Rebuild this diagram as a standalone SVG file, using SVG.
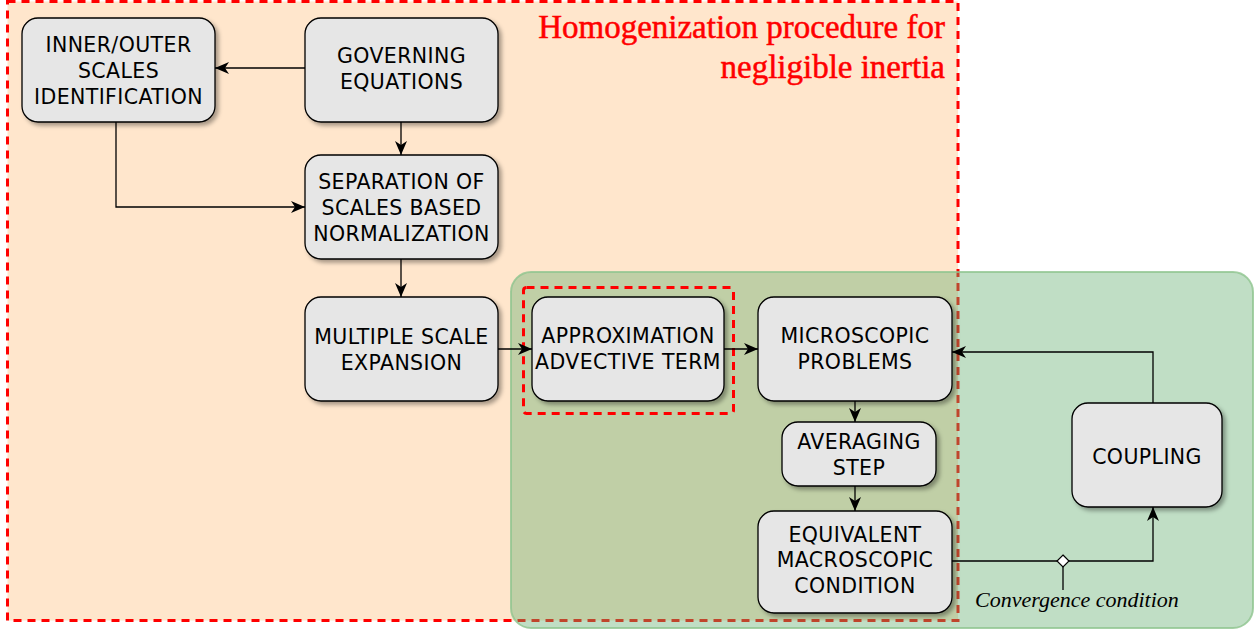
<svg xmlns="http://www.w3.org/2000/svg" width="1258" height="634" viewBox="0 0 1258 634">
<style>
.node rect{fill:#E6E6E6;stroke:#000;stroke-width:1.3}
.nt{font-family:"DejaVu Sans",Verdana,sans-serif;font-size:20.5px;letter-spacing:0.4px;fill:#000;text-anchor:middle}
.con{fill:none;stroke:#000;stroke-width:1.3}
.title{font-family:"Liberation Serif","Times New Roman",serif;font-size:33px;fill:#FF0000;stroke:#FF0000;stroke-width:0.5;text-anchor:end}
.lbl{font-family:"Liberation Serif","Times New Roman",serif;font-size:22px;font-style:italic;fill:#000}
</style>
<defs>
<filter id="sh" x="-10%" y="-10%" width="130%" height="140%">
<feDropShadow dx="3" dy="3" stdDeviation="2" flood-color="#000" flood-opacity="0.35"/>
</filter>
<marker id="arr" viewBox="0 0 14 12" refX="14" refY="6" markerWidth="14" markerHeight="12" markerUnits="userSpaceOnUse" orient="auto">
<path d="M14,6 L0,0 L4,6 L0,12 Z" fill="#000"/>
</marker>
</defs>
<rect width="1258" height="634" fill="#FFFFFF"/>
<g id="region-homogenization">
<rect x="7.5" y="1.5" width="950.5" height="619" fill="#FFE6CC" stroke="#FF0000" stroke-width="3" stroke-dasharray="8 6"/>
</g>
<g id="region-coupling">
<rect x="511" y="272" width="742" height="356" rx="20" ry="20" fill="rgb(97,172,110)" fill-opacity="0.4" stroke="#8FC48F" stroke-opacity="0.8" stroke-width="2"/>
</g>
<g id="title">
<text class="title" x="945" y="38">Homogenization procedure for</text>
<text class="title" x="945" y="78">negligible inertia</text>
</g>
<g id="approx-highlight">
<rect x="523.5" y="287.5" width="210" height="126" rx="3" fill="none" stroke="#FF0000" stroke-width="3" stroke-dasharray="8 6"/>
</g>
<g id="connectors">
<path class="con" d="M305,68 L215,68" marker-end="url(#arr)"/>
<path class="con" d="M401,122 L401,155" marker-end="url(#arr)"/>
<path class="con" d="M116,122 L116,207 L305,207" marker-end="url(#arr)"/>
<path class="con" d="M401,259 L401,297" marker-end="url(#arr)"/>
<path class="con" d="M498,349 L532,349" marker-end="url(#arr)"/>
<path class="con" d="M724,349 L758,349" marker-end="url(#arr)"/>
<path class="con" d="M855,401 L855,422" marker-end="url(#arr)"/>
<path class="con" d="M855,486 L855,511" marker-end="url(#arr)"/>
<path class="con" d="M952,561 L1153,561 L1153,507" stroke="#222" stroke-width="1.5" marker-end="url(#arr)"/>
<path class="con" d="M1153,403 L1153,352 L952,352" stroke="#222" stroke-width="1.5" marker-end="url(#arr)"/>
<path class="con" d="M1063,567 L1063,590" stroke="#333" stroke-width="1.5"/>
<path d="M1063,555 L1069,561 L1063,567 L1057,561 Z" fill="#FFFFFF" stroke="#000" stroke-width="1.2"/>
</g>
<g id="node-inner-outer" class="node">
<rect x="22" y="18" width="193" height="104" rx="16" filter="url(#sh)"/>
<text class="nt" x="118.5" y="52">INNER/OUTER</text>
<text class="nt" x="118.5" y="78">SCALES</text>
<text class="nt" x="118.5" y="103.5">IDENTIFICATION</text>
</g>
<g id="node-governing" class="node">
<rect x="305" y="18" width="193" height="104" rx="16" filter="url(#sh)"/>
<text class="nt" x="401.5" y="63">GOVERNING</text>
<text class="nt" x="401.5" y="88.5">EQUATIONS</text>
</g>
<g id="node-separation" class="node">
<rect x="305" y="155" width="193" height="104" rx="16" filter="url(#sh)"/>
<text class="nt" x="401.5" y="189">SEPARATION OF</text>
<text class="nt" x="401.5" y="215">SCALES BASED</text>
<text class="nt" x="401.5" y="240.5">NORMALIZATION</text>
</g>
<g id="node-multiple" class="node">
<rect x="305" y="297" width="193" height="104" rx="16" filter="url(#sh)"/>
<text class="nt" x="401.5" y="344">MULTIPLE SCALE</text>
<text class="nt" x="401.5" y="370">EXPANSION</text>
</g>
<g id="node-approximation" class="node">
<rect x="532" y="297" width="192" height="104" rx="16" filter="url(#sh)"/>
<text class="nt" x="628" y="342.5">APPROXIMATION</text>
<text class="nt" x="628" y="368.5">ADVECTIVE TERM</text>
</g>
<g id="node-microscopic" class="node">
<rect x="758" y="297" width="194" height="104" rx="16" filter="url(#sh)"/>
<text class="nt" x="855" y="342.5">MICROSCOPIC</text>
<text class="nt" x="855" y="368.5">PROBLEMS</text>
</g>
<g id="node-averaging" class="node">
<rect x="782" y="422" width="154" height="64" rx="16" filter="url(#sh)"/>
<text class="nt" x="859" y="449">AVERAGING</text>
<text class="nt" x="859" y="475">STEP</text>
</g>
<g id="node-equivalent" class="node">
<rect x="758" y="511" width="194" height="102" rx="16" filter="url(#sh)"/>
<text class="nt" x="855" y="542">EQUIVALENT</text>
<text class="nt" x="855" y="567">MACROSCOPIC</text>
<text class="nt" x="855" y="593">CONDITION</text>
</g>
<g id="node-coupling" class="node">
<rect x="1072" y="403" width="150" height="104" rx="16" filter="url(#sh)"/>
<text class="nt" x="1147" y="464">COUPLING</text>
</g>
<g id="label-convergence">
<text class="lbl" x="975" y="607">Convergence condition</text>
</g>
</svg>
